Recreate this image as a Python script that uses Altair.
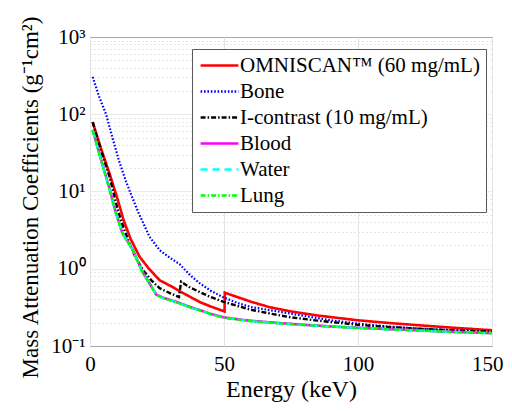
import altair as alt
import pandas as pd

# ---- series definitions ----
names = ["OMNISCAN™ (60 mg/mL)", "Bone", "I-contrast (10 mg/mL)", "Blood", "Water", "Lung"]
colors = ["#ff0000", "#0000ff", "#000000", "#ff00ff", "#00ffff", "#00ff00"]
dashes = [[1, 0], [1.6, 1.8], [5, 2, 1.5, 2], [1, 0], [7, 5], [5, 2, 1.5, 2]]
widths = [2.6, 2.2, 2.4, 2.6, 2.4, 2.4]

# ---- values (energy in keV, mass attenuation in g^-1 cm^2) ----
omni_E = [1, 4, 7.3, 10, 11.5, 12.5, 15, 18.5, 22, 26, 30, 33.5, 37, 41, 45, 50.2,
          50.3, 55, 60, 67, 75, 85, 100, 112, 125, 137, 150]
omni_V = [79, 37, 17, 8.6, 5.7, 4.3, 2.5, 1.43, 1.0, 0.71, 0.6, 0.51, 0.44, 0.37, 0.325, 0.28,
          0.49, 0.43, 0.375, 0.318, 0.28, 0.248, 0.215, 0.198, 0.183, 0.171, 0.16]

bone_E = [1, 3.5, 6, 8.5, 10.8, 13.5, 16, 18, 22.2, 26, 29, 33.4, 37, 40.9, 45, 49.6,
          55, 60, 70.8, 80, 90, 100, 110, 125, 150]
bone_V = [304, 165, 100, 48, 25, 13.3, 8.0, 5.4, 2.6, 1.74, 1.45, 1.15, 0.85, 0.65, 0.52, 0.43,
          0.36, 0.32, 0.277, 0.245, 0.215, 0.195, 0.18, 0.166, 0.152]

iodine_E = [1, 4, 7.3, 10.4, 12.5, 14.8, 17, 19.8, 23, 26, 30, 33.2, 34, 37, 40.9, 45,
            49.6, 55, 60, 67, 75, 85, 100, 112, 125, 137, 150]
iodine_V = [79, 35, 15.5, 5.7, 3.4, 2.1, 1.4, 0.96, 0.7, 0.56, 0.48, 0.43, 0.68, 0.58, 0.5, 0.43,
            0.375, 0.33, 0.295, 0.264, 0.235, 0.213, 0.188, 0.175, 0.166, 0.159, 0.153]

blood_E = [1, 4, 7, 9.5, 12, 16, 19.2, 21, 24.7, 27, 30, 33.4, 37, 40.9, 45, 49.6,
           55, 60, 70.8, 80, 90, 100, 112, 125, 137, 150]
blood_V = [63, 27, 11.8, 5.6, 2.95, 1.76, 0.97, 0.76, 0.465, 0.425, 0.395, 0.36, 0.323, 0.292, 0.26, 0.236,
           0.222, 0.212, 0.198, 0.188, 0.179, 0.172, 0.165, 0.158, 0.152, 0.147]

water_E = [1, 4, 7, 9.5, 12, 16, 19.2, 21, 24.7, 27, 30, 33.4, 37, 40.9, 45, 49.6,
           55, 60, 70.8, 80, 90, 100, 112, 125, 137, 150]
water_V = [62, 26, 11.5, 5.5, 2.9, 1.74, 0.96, 0.75, 0.46, 0.42, 0.39, 0.356, 0.32, 0.29, 0.258, 0.234,
           0.22, 0.21, 0.196, 0.187, 0.178, 0.171, 0.164, 0.157, 0.151, 0.146]

lung_E = [1, 4, 7, 9.5, 12, 16, 19.2, 21, 24.7, 27, 30, 33.4, 37, 40.9, 45, 49.6,
          55, 60, 70.8, 80, 90, 100, 112, 125, 137, 150]
lung_V = [62, 26, 11.5, 5.5, 2.9, 1.74, 0.96, 0.75, 0.46, 0.42, 0.39, 0.356, 0.32, 0.29, 0.258, 0.234,
          0.22, 0.21, 0.196, 0.187, 0.178, 0.171, 0.164, 0.157, 0.151, 0.146]

x_ticks = [0, 50, 100, 150]
y_ticks = [round(m * 10.0 ** k, 6) for k in range(-1, 3) for m in range(1, 10)] + [1000]
y_labels = {1000: "10³", 100: "10²", 10: "10¹", 1: "10⁰", 0.1: "10⁻¹"}

series_data = [omni_E, bone_E, iodine_E, blood_E, water_E, lung_E]
series_vals = [omni_V, bone_V, iodine_V, blood_V, water_V, lung_V]

frames = []
for nm, E, V in zip(names, series_data, series_vals):
    frames.append(pd.DataFrame({"series": nm, "energy": E, "mu": V}))
df = pd.concat(frames, ignore_index=True)

FONT = "Liberation Serif"
major = "abs(log(datum.value)/LN10 - round(log(datum.value)/LN10)) < 0.000001"
label_expr = " : ".join(
    [f"abs(datum.value - {k}) < {k * 1e-6} ? '{v}'" for k, v in y_labels.items()]
) + " : ''"
last_x = f"datum.value == {x_ticks[-1]}"

color_scale = alt.Scale(domain=names, range=colors)
dash_scale = alt.Scale(domain=names, range=dashes)

legend = alt.Legend(
    title=None, orient="none", legendX=102, legendY=12,
    symbolType="M-2.7,0H2.7", symbolSize=196, symbolStrokeWidth=2.5,
    labelFont=FONT, labelFontSize=21, labelLimit=400, labelColor="black",
    padding=6, rowPadding=4, fillColor="white", strokeColor="#5a5a5a",
    symbolOffset=11, labelOffset=10, cornerRadius=0,
)

x_enc = alt.X(
    "energy:Q",
    scale=alt.Scale(domain=[0, 150], nice=False, zero=False),
    axis=alt.Axis(
        values=x_ticks, title="Energy (keV)", grid=True, gridColor="#e3e3e3",
        domain=False, ticks=False, labelPadding=7, titlePadding=3, labelFlush=False,
        labelAlign={"condition": {"test": last_x, "value": "right"}, "value": "center"},
        labelOffset={"condition": {"test": last_x, "value": 11}, "value": 0},
        labelFont=FONT, labelFontSize=21, titleFont=FONT, titleFontSize=24,
        titleFontWeight="normal", labelColor="black", titleColor="black",
    ),
)
y_enc = alt.Y(
    "mu:Q",
    scale=alt.Scale(type="log", domain=[0.1, 1000], nice=False),
    axis=alt.Axis(
        values=y_ticks, labelExpr=label_expr, labelOverlap=False, labelFlush=False,
        title="Mass Attenuation Coefficients (g⁻¹cm²)",
        grid=True,
        gridDash={"condition": {"test": major, "value": [1, 0]}, "value": [1, 3]},
        gridColor={"condition": {"test": major, "value": "#e3e3e3"}, "value": "#cfcfcf"},
        domain=False, ticks=False, labelPadding=5, titlePadding=8, titleY=160,
        labelFont=FONT, labelFontSize=21, titleFont=FONT, titleFontSize=23,
        titleFontWeight="normal", labelColor="black", titleColor="black",
    ),
)

layers = []
for i, nm in enumerate(names):
    layers.append(
        alt.Chart(df)
        .transform_filter(alt.datum.series == nm)
        .mark_line(strokeWidth=widths[i], clip=True)
        .encode(
            x=x_enc,
            y=y_enc,
            color=alt.Color("series:N", scale=color_scale, legend=legend),
            strokeDash=alt.StrokeDash("series:N", scale=dash_scale, legend=legend),
        )
    )

chart = (
    alt.layer(*layers)
    .properties(
        width=402, height=309,
        autosize=alt.AutoSizeParams(type="none"),
        padding={"left": 82, "top": 29, "right": 12, "bottom": 56},
        background="white",
    )
    .configure_view(stroke="black", strokeWidth=1)
)

chart.save("out.html", embed_options={"renderer": "svg", "actions": False})
